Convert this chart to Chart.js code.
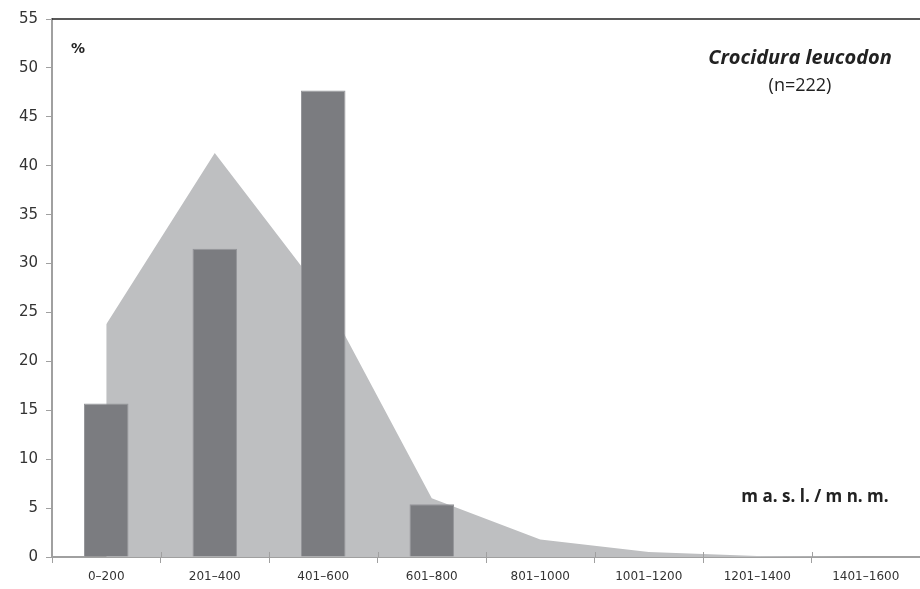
<!DOCTYPE html>
<html>
<head>
<meta charset="utf-8">
<script src="https://cdn.jsdelivr.net/npm/chart.js@4/dist/chart.umd.min.js"></script>
<style>
  html, body { margin: 0; padding: 0; background: #fff; }
  #wrap { width: 920px; height: 589px; }
</style>
</head>
<body>
<div id="wrap"><canvas id="altitude-chart"></canvas></div>
<script>
const altitudeLabels = ["0\u2013200", "201\u2013400", "401\u2013600", "601\u2013800",
    "801\u20131000", "1001\u20131200", "1201\u20131400", "1401\u20131600"];
const speciesValues = [15.7, 31.5, 47.7, 5.4, null, null, null, null];
const allSpeciesValues = [23.8, 41.3, 26.8, 6.0, 1.8, 0.5, 0.1, 0];
const yTicks = [0, 5, 10, 15, 20, 25, 30, 35, 40, 45, 50, 55];

// labels drawn on top of the plot, plus the top frame line
const annotations = {
    id: "annotations",
    afterDraw(chart) {
        const ctx = chart.ctx;
        const area = chart.chartArea;
        const xScale = chart.scales.x;
        ctx.save();
        ctx.strokeStyle = "#222";
        ctx.lineWidth = 1.5;
        ctx.beginPath();
        ctx.moveTo(area.left, area.top);
        ctx.lineTo(area.right, area.top);
        ctx.stroke();

        // small upward part of the x tick marks (boundaries between categories)
        ctx.strokeStyle = "#a0a0a0";
        ctx.lineWidth = 1;
        ctx.beginPath();
        for (let i = 1; i < altitudeLabels.length; i++) {
            const x = Math.round((xScale.getPixelForTick(i - 1) + xScale.getPixelForTick(i)) / 2) + 0.5;
            ctx.moveTo(x, area.bottom);
            ctx.lineTo(x, area.bottom - 5);
        }
        ctx.stroke();

        ctx.fillStyle = "#222";
        ctx.textBaseline = "middle";
        ctx.textAlign = "left";
        ctx.font = "bold 14px 'DejaVu Sans'";
        ctx.fillText("%", 71, 49);

        ctx.textAlign = "center";
        ctx.font = "italic bold 20px 'Open Sans'";
        ctx.fillText("Crocidura leucodon", 800, 58);
        ctx.font = "18px 'Open Sans'";
        ctx.fillText("(n=222)", 800, 86);
        ctx.font = "bold 17px 'Open Sans'";
        ctx.fillText("m a. s. l. / m n. m.", 815, 497);
        ctx.restore();
    },
};

const altitudeContext = document.getElementById("altitude-chart");

const altitudeChart = new Chart(altitudeContext, {
    type: "bar",
    data: {
        labels: altitudeLabels,
        datasets: [
            {
                type: "bar",
                label: "Crocidura leucodon",
                data: speciesValues,
                backgroundColor: "#7b7c80",
                borderColor: "#95969a",
                borderWidth: 1,
                categoryPercentage: 1,
                barPercentage: 0.41,
                order: 1,
            },
            {
                type: "line",
                label: "all",
                data: allSpeciesValues,
                fill: "origin",
                backgroundColor: "#bebfc1",
                borderWidth: 0,
                pointRadius: 0,
                tension: 0,
                order: 2,
            },
        ],
    },
    options: {
        responsive: true,
        maintainAspectRatio: false,
        animation: false,
        layout: { padding: { top: 19, right: 0, left: 0, bottom: 0 } },
        plugins: {
            legend: { display: false },
            tooltip: { enabled: false },
        },
        scales: {
            x: {
                offset: true,
                grid: {
                    drawOnChartArea: false,
                    drawTicks: true,
                    tickLength: 6,
                    color: "#a0a0a0",
                    offset: true,
                },
                border: { color: "#a0a0a0", width: 2 },
                ticks: {
                    color: "#333",
                    font: { family: "'DejaVu Sans'", size: 12 },
                    padding: 7,
                    maxRotation: 0,
                    autoSkip: false,
                },
                afterFit(scale) { scale.height = 32; },
            },
            y: {
                min: 0,
                max: 55,
                afterBuildTicks(scale) {
                    scale.ticks = yTicks.map((v) => ({ value: v }));
                },
                grid: {
                    drawOnChartArea: false,
                    drawTicks: true,
                    tickLength: 6,
                    color: "#a0a0a0",
                },
                border: { color: "#a0a0a0", width: 2 },
                ticks: {
                    color: "#333",
                    font: { family: "'DejaVu Sans'", size: 15 },
                    padding: 8,
                },
                afterFit(scale) { scale.width = 52; },
            },
        },
    },
    plugins: [annotations],
});
</script>
</body>
</html>
